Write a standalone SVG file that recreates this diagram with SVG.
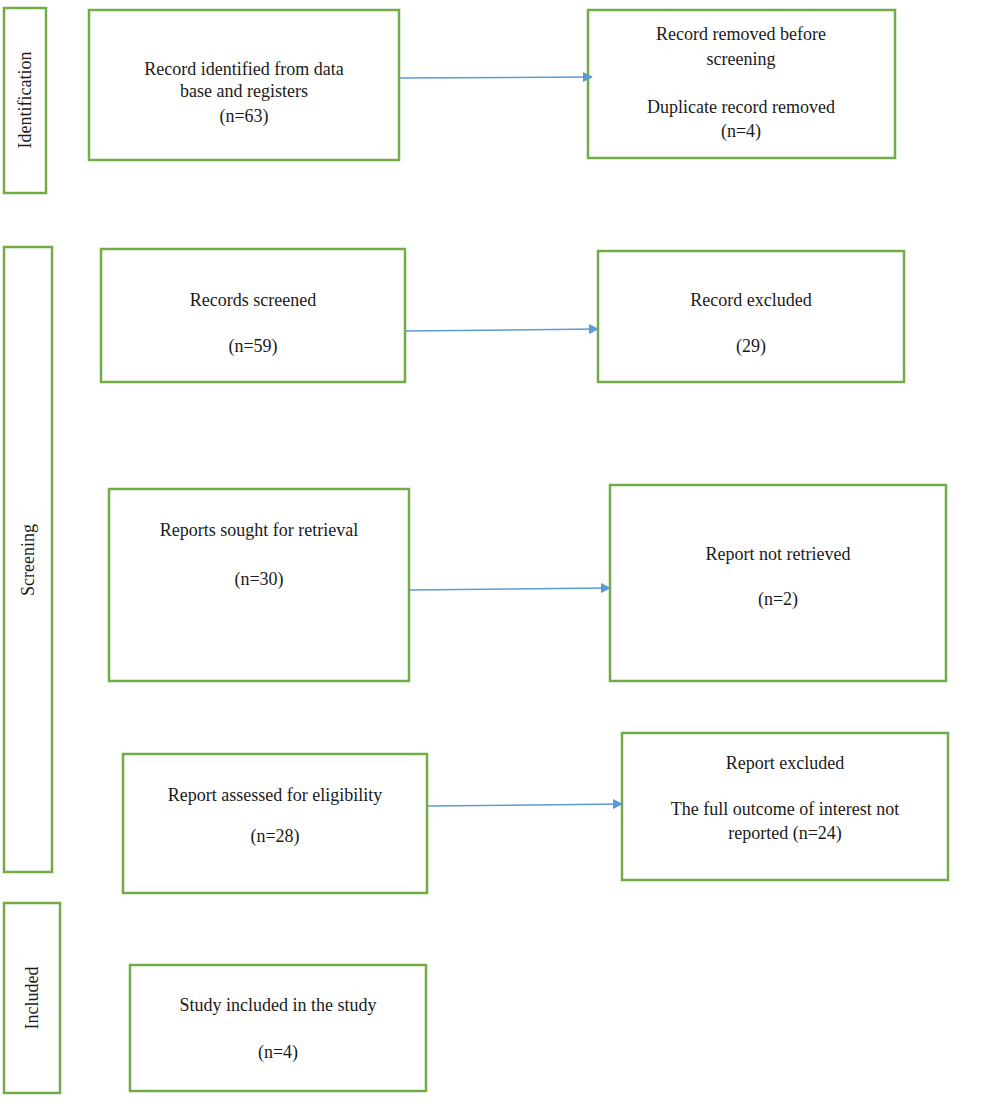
<svg xmlns="http://www.w3.org/2000/svg" width="986" height="1107" viewBox="0 0 986 1107">
<style>
rect{fill:#fff;stroke:#70ad47;stroke-width:2.5}
text{font-family:"Liberation Serif",serif;font-size:18px;fill:#1a1a1a;text-anchor:middle}
.c{stroke:#5b9bd5;stroke-width:1.5;fill:none;marker-end:url(#a)}
</style>
<defs><marker id="a" markerWidth="10" markerHeight="10" refX="9" refY="5" orient="auto" markerUnits="userSpaceOnUse"><path d="M0,0L10,5L0,10z" fill="#5b9bd5"/></marker></defs>
<rect width="986" height="1107" style="stroke:none"/>
<g id="side-identification"><rect x="4" y="8" width="42" height="185"/><text transform="translate(31,100) rotate(-90)">Identification</text></g>
<g id="side-screening"><rect x="4" y="247" width="48" height="625"/><text transform="translate(34,560) rotate(-90)">Screening</text></g>
<g id="side-included"><rect x="4" y="903" width="56" height="190"/><text transform="translate(38,998) rotate(-90)">Included</text></g>
<g id="n1"><rect x="89" y="10" width="310" height="150"/><text x="244" y="75">Record identified from data</text><text x="244" y="97">base and registers</text><text x="244" y="122">(n=63)</text></g>
<g id="n2"><rect x="588" y="10" width="307" height="148"/><text x="741" y="40">Record removed before</text><text x="741" y="65">screening</text><text x="741" y="113">Duplicate record removed</text><text x="741" y="137">(n=4)</text></g>
<g id="n3"><rect x="101" y="249" width="304" height="133"/><text x="253" y="306">Records screened</text><text x="253" y="352">(n=59)</text></g>
<g id="n4"><rect x="598" y="251" width="306" height="131"/><text x="751" y="306">Record excluded</text><text x="751" y="352">(29)</text></g>
<g id="n5"><rect x="109" y="489" width="300" height="192"/><text x="259" y="536">Reports sought for retrieval</text><text x="259" y="585">(n=30)</text></g>
<g id="n6"><rect x="610" y="485" width="336" height="196"/><text x="778" y="560">Report not retrieved</text><text x="778" y="605">(n=2)</text></g>
<g id="n7"><rect x="123" y="754" width="304" height="139"/><text x="275" y="801">Report assessed for eligibility</text><text x="275" y="842">(n=28)</text></g>
<g id="n8"><rect x="622" y="733" width="326" height="147"/><text x="785" y="769">Report excluded</text><text x="785" y="815">The full outcome of interest not</text><text x="785" y="839">reported (n=24)</text></g>
<g id="n9"><rect x="130" y="965" width="296" height="126"/><text x="278" y="1011">Study included in the study</text><text x="278" y="1058">(n=4)</text></g>
<g id="connectors">
<path class="c" d="M399,78L592,77"/>
<path class="c" d="M405,331L598,329"/>
<path class="c" d="M409,590L610,588"/>
<path class="c" d="M427,806L622,804"/>
</g>
</svg>
